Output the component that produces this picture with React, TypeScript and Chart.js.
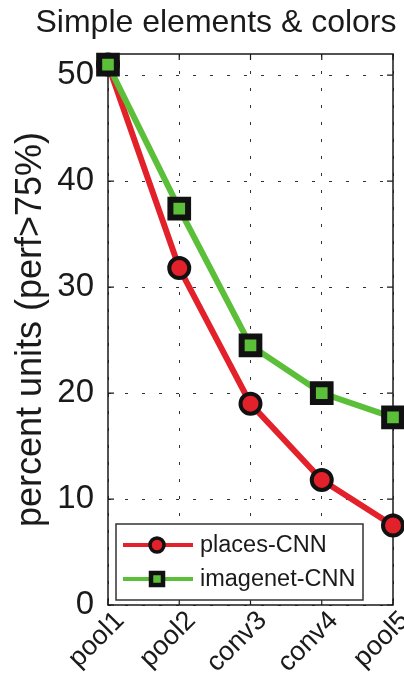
import { useEffect, useRef } from 'react';
import { Chart, registerables } from 'chart.js';

Chart.register(...registerables);

// Network layers along the x axis
const LAYERS = ['pool1', 'pool2', 'conv3', 'conv4', 'pool5'];
// Percent of units with perf > 75%, per layer
const PLACES_CNN = [51, 31.8, 19.0, 11.8, 7.5];
const IMAGENET_CNN = [51, 37.4, 24.5, 20.0, 17.7];
// Y axis ticks and range
const Y_TICKS = [0, 10, 20, 30, 40, 50];
const Y_MIN = 0;
const Y_MAX = 52;

const TITLE = 'Simple elements & colors';
const Y_LABEL = 'percent units (perf>75%)';

const FONT = '"Liberation Sans", Arial, Helvetica, sans-serif';
const RED = '#e3212b';
const GREEN = '#5cbf3a';
const INK = '#1a1a1a';

type Marker = 'circle' | 'rect';

function drawMarker(ctx: CanvasRenderingContext2D, kind: Marker, x: number, y: number, fill: string, size: number, border: number) {
  ctx.save();
  ctx.fillStyle = fill;
  ctx.strokeStyle = '#111';
  ctx.lineWidth = border;
  ctx.beginPath();
  if (kind === 'circle') {
    ctx.arc(x, y, size, 0, Math.PI * 2);
  } else {
    ctx.rect(x - size, y - size, size * 2, size * 2);
  }
  ctx.fill();
  ctx.stroke();
  ctx.restore();
}

// Axis box with inward tick marks, drawn underneath the series
const framePlugin = {
  id: 'frame',
  beforeDatasetsDraw(chart: any) {
    const { ctx, chartArea: a, scales } = chart;
    ctx.save();
    ctx.strokeStyle = INK;
    ctx.lineWidth = 1.5;
    ctx.strokeRect(a.left, a.top, a.right - a.left, a.bottom - a.top);
    ctx.lineWidth = 1.2;
    ctx.beginPath();
    scales.x.ticks.forEach((_: any, i: number) => {
      const x = scales.x.getPixelForTick(i);
      ctx.moveTo(x, a.bottom);
      ctx.lineTo(x, a.bottom - 6);
      ctx.moveTo(x, a.top);
      ctx.lineTo(x, a.top + 6);
    });
    scales.y.ticks.forEach((t: any) => {
      const y = scales.y.getPixelForValue(t.value);
      ctx.moveTo(a.left, y);
      ctx.lineTo(a.left + 6, y);
      ctx.moveTo(a.right, y);
      ctx.lineTo(a.right - 6, y);
    });
    ctx.stroke();
    ctx.restore();
  },
};

// Title above the axes and the boxed legend in the lower-left corner
const annotationPlugin = {
  id: 'annotations',
  afterDraw(chart: any) {
    const { ctx, chartArea: a } = chart;
    ctx.save();
    ctx.fillStyle = INK;
    ctx.font = `32px ${FONT}`;
    ctx.textAlign = 'center';
    ctx.textBaseline = 'middle';
    ctx.fillText(TITLE, 216, 23);

    const left = a.left + 8;
    const top = a.bottom - 81;
    const w = 247;
    const h = 76;
    ctx.fillStyle = '#ffffff';
    ctx.fillRect(left, top, w, h);
    ctx.strokeStyle = '#333';
    ctx.lineWidth = 1.5;
    ctx.strokeRect(left, top, w, h);

    const rows = [top + 21, top + 55];
    chart.data.datasets.forEach((ds: any, i: number) => {
      const y = rows[i];
      ctx.strokeStyle = ds.borderColor;
      ctx.lineWidth = 4;
      ctx.beginPath();
      ctx.moveTo(left + 7, y);
      ctx.lineTo(left + 77, y);
      ctx.stroke();
      if (ds.pointStyle === 'circle') {
        drawMarker(ctx, 'circle', left + 41, y, ds.pointBackgroundColor, 7, 3.5);
      } else {
        drawMarker(ctx, 'rect', left + 41, y, ds.pointBackgroundColor, 6, 4.5);
      }
      ctx.fillStyle = INK;
      ctx.font = `23.5px ${FONT}`;
      ctx.textAlign = 'left';
      ctx.textBaseline = 'middle';
      ctx.fillText(ds.label, left + 84, y + 1);
    });
    ctx.restore();
  },
};

export default function App() {
  const canvasRef = useRef<HTMLCanvasElement | null>(null);

  useEffect(() => {
    const canvas = canvasRef.current;
    if (!canvas) return;
    const chart = new Chart(canvas, {
      type: 'line',
      data: {
        labels: LAYERS,
        datasets: [
          {
            label: 'places-CNN',
            data: PLACES_CNN,
            borderColor: RED,
            backgroundColor: RED,
            borderWidth: 6,
            pointStyle: 'circle',
            pointRadius: 10,
            pointBorderWidth: 4,
            pointBorderColor: '#111',
            pointBackgroundColor: RED,
            tension: 0,
            clip: false,
            order: 1,
          } as any,
          {
            label: 'imagenet-CNN',
            data: IMAGENET_CNN,
            borderColor: GREEN,
            backgroundColor: GREEN,
            borderWidth: 6,
            pointStyle: 'rect',
            pointRadius: 12.5,
            pointBorderWidth: 6,
            pointBorderColor: '#111',
            pointBackgroundColor: GREEN,
            tension: 0,
            clip: false,
            order: 0,
          } as any,
        ],
      },
      options: {
        animation: false,
        responsive: true,
        maintainAspectRatio: false,
        events: [],
        layout: { autoPadding: false, padding: { top: 54, right: 11, left: 0, bottom: 0 } },
        plugins: {
          legend: { display: false },
          tooltip: { enabled: false },
          title: { display: false },
        },
        scales: {
          x: {
            type: 'category',
            offset: false,
            grid: { color: '#333', lineWidth: 1, drawTicks: false },
            border: { display: false, dash: [3, 14] },
            ticks: {
              color: INK,
              font: { family: FONT, size: 27 },
              minRotation: 45,
              maxRotation: 45,
              padding: 0,
              labelOffset: 12,
            },
            afterFit(scale: any) {
              scale.height = 72;
              scale.paddingLeft = 0;
              scale.paddingRight = 0;
            },
          },
          y: {
            min: Y_MIN,
            max: Y_MAX,
            grid: { color: '#333', lineWidth: 1, drawTicks: false },
            border: { display: false, dash: [3, 14] },
            ticks: {
              color: INK,
              font: { family: FONT, size: 33 },
              padding: 14,
            },
            title: {
              display: true,
              text: Y_LABEL,
              color: INK,
              font: { family: FONT, size: 36 },
              padding: { top: 9, bottom: 0 },
            },
            afterBuildTicks(scale: any) {
              scale.ticks = Y_TICKS.map((v) => ({ value: v }));
            },
            afterFit(scale: any) {
              scale.width = 108;
            },
          },
        },
      },
      plugins: [framePlugin, annotationPlugin],
    } as any);
    return () => chart.destroy();
  }, []);

  return (
    <div style={{ position: 'absolute', left: 0, top: 0, width: 404, height: 677, background: '#fff' }}>
      <canvas ref={canvasRef} />
    </div>
  );
}
